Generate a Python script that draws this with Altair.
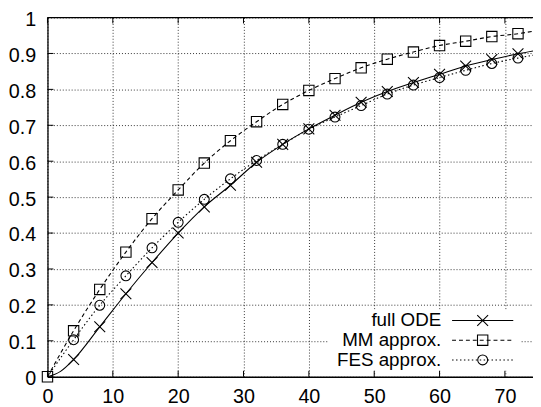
import altair as alt
import pandas as pd

# ---- data ----
x_marks = [0, 4, 8, 12, 16, 20, 24, 28, 32, 36, 40, 44, 48, 52, 56, 60, 64, 68, 72]
ode = [0, 0.048, 0.139, 0.231, 0.318, 0.40, 0.473, 0.533, 0.597, 0.647, 0.69,
       0.728, 0.764, 0.794, 0.819, 0.842, 0.865, 0.883, 0.899]
mm = [0, 0.128, 0.243, 0.347, 0.44, 0.52, 0.595, 0.657, 0.71, 0.758, 0.797,
      0.83, 0.86, 0.884, 0.904, 0.922, 0.934, 0.947, 0.955]
fes = [0, 0.103, 0.199, 0.281, 0.359, 0.43, 0.494, 0.551, 0.602, 0.647, 0.689,
       0.723, 0.755, 0.787, 0.812, 0.833, 0.853, 0.872, 0.887]
# extra points on the curves (start of ODE curve, right edge)
ode_extra_x = [2, 74.3]
ode_extra_y = [0.015, 0.907]
mm_extra_x = [74.3]
mm_extra_y = [0.962]
fes_extra_x = [74.3]
fes_extra_y = [0.895]

series_names = ["full ODE", "MM approx.", "FES approx."]
x_ticks = [0, 10, 20, 30, 40, 50, 60, 70]
y_ticks = [0, 0.1, 0.2, 0.3, 0.4, 0.5, 0.6, 0.7, 0.8, 0.9, 1]

XMAX = 74.3
W, H = 492, 364
FONT = "Liberation Sans"
FS = 20
KEY_FS = 19

def line_df(xs, ys, ex, ey):
    d = pd.DataFrame({"x": list(xs) + list(ex), "y": list(ys) + list(ey)})
    return d.sort_values("x")

ode_line = line_df(x_marks, ode, ode_extra_x, ode_extra_y)
mm_line = line_df(x_marks, mm, mm_extra_x, mm_extra_y)
fes_line = line_df(x_marks, fes, fes_extra_x, fes_extra_y)

ode_pts = pd.DataFrame({"x": x_marks[1:], "y": ode[1:]})
mm_pts = pd.DataFrame({"x": x_marks, "y": mm})
fes_pts = pd.DataFrame({"x": x_marks[1:], "y": fes[1:]})

xs = alt.Scale(domain=[0, XMAX], nice=False, zero=False)
ys = alt.Scale(domain=[0, 1], nice=False)

CROSS = "M-1,-1L1,1M-1,1L1,-1"

x_axis = alt.Axis(values=x_ticks, title=None, grid=True, ticks=False,
                  labelPadding=10, domain=True, domainColor="black",
                  domainWidth=1.3, labelFlush=False, labelOverlap=False,
                  labelFont=FONT, labelFontSize=FS, labelColor="black",
                  gridColor="black", gridDash=[1, 2], gridOpacity=0.8, gridWidth=1)
y_axis = alt.Axis(values=y_ticks, title=None, grid=True, ticks=False,
                  labelPadding=12, labelOffset=2, domain=True, domainColor="black",
                  domainWidth=1.3, labelFlush=False, labelOverlap=False,
                  labelFont=FONT, labelFontSize=FS, labelColor="black",
                  gridColor="black", gridDash=[1, 2], gridOpacity=0.8, gridWidth=1,
                  labelExpr="datum.value == 1 ? '1' : (datum.value == 0 ? '0' : format(datum.value, '.1f'))")

X = alt.X("x:Q", scale=xs, axis=x_axis)
Y = alt.Y("y:Q", scale=ys, axis=y_axis)

def line_layer(df, dash):
    m = alt.Chart(df).mark_line(color="black", strokeWidth=1.1, interpolate="monotone",
                                clip=True, **({"strokeDash": dash} if dash else {}))
    return m.encode(x=X, y=Y)

def pt_layer(df, shape, size):
    return alt.Chart(df).mark_point(shape=shape, size=size, filled=False, color="black",
                                    strokeWidth=1.1, opacity=1).encode(x=X, y=Y)

l_ode = line_layer(ode_line, None)
l_mm = line_layer(mm_line, [4, 3])
l_fes = line_layer(fes_line, [1.5, 2.5])
p_ode = pt_layer(ode_pts, CROSS, 121)
p_mm = pt_layer(mm_pts, "square", 110)
p_fes = pt_layer(fes_pts, "circle", 100)

# top border
top_border = alt.Chart(pd.DataFrame({"a": [1]})).mark_rule(color="black", strokeWidth=1.3).encode(
    x=alt.value(0), x2=alt.value(W), y=alt.value(0))

# inward ticks
xt = pd.DataFrame({"x": x_ticks})
yt = pd.DataFrame({"y": y_ticks})
xticks_b = alt.Chart(xt).mark_rule(color="black").encode(
    x=X, y=alt.value(H), y2=alt.value(H - 6))
xticks_t = alt.Chart(xt).mark_rule(color="black").encode(
    x=X, y=alt.value(0), y2=alt.value(6))
yticks_l = alt.Chart(yt).mark_rule(color="black").encode(
    y=Y, x=alt.value(0), x2=alt.value(6))

# legend (key box)
key_box = alt.Chart(pd.DataFrame({"a": [1]})).mark_rect(color="white").encode(
    x=alt.value(285), x2=alt.value(479), y=alt.value(296), y2=alt.value(358))

rows_y = [307, 327, 347]
key_layers = []
dashes = [None, [4, 3], [1.5, 2.5]]
shapes = [(CROSS, 121), ("square", 110), ("circle", 100)]
for i, name in enumerate(series_names):
    d = pd.DataFrame({"label": [name]})
    key_layers.append(alt.Chart(d).mark_text(align="right", baseline="middle", font=FONT,
                                             fontSize=KEY_FS, color="black").encode(
        text="label:N", x=alt.value(399), y=alt.value(rows_y[i])))
    rk = {"strokeDash": dashes[i]} if dashes[i] else {}
    key_layers.append(alt.Chart(d).mark_rule(color="black", strokeWidth=1.1, **rk).encode(
        x=alt.value(410), x2=alt.value(472), y=alt.value(rows_y[i])))
    key_layers.append(alt.Chart(d).mark_point(shape=shapes[i][0], size=shapes[i][1], filled=False,
                                              color="black", strokeWidth=1.1, opacity=1).encode(
        x=alt.value(441), y=alt.value(rows_y[i])))

chart = alt.layer(
    l_ode, l_mm, l_fes, p_ode, p_mm, p_fes, top_border,
    key_box, xticks_b, xticks_t, yticks_l, *key_layers
).properties(
    width=W, height=H,
    padding={"left": 40, "top": 7, "right": 0, "bottom": 28},
    autosize=alt.AutoSizeParams(type="none"),
    background="white",
).configure_view(stroke=None)

chart.save("out.html", embed_options={"renderer": "svg", "actions": False})
